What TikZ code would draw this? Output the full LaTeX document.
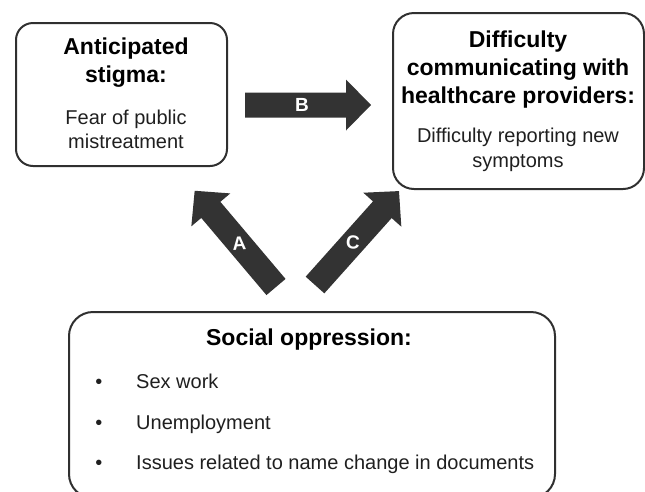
\documentclass[tikz,border=0pt]{standalone}
\usepackage{fontspec}
\setmainfont{Liberation Sans}
\definecolor{boxgray}{HTML}{303030}
\definecolor{arrowgray}{HTML}{333333}
\tikzset{
  box/.style={draw=boxgray, line width=2pt, rounded corners=#1, anchor=north west, inner sep=0},
  titletext/.style={font=\bfseries\fontsize{23}{27}\selectfont, anchor=base, inner sep=0, text=black},
  bodytext/.style={font=\fontsize{20}{24}\selectfont, anchor=base, inner sep=0, text=black!88},
  itemtext/.style={bodytext, anchor=base west},
  arrowfill/.style={fill=arrowgray},
  arrowlabel/.style={font=\bfseries\fontsize{19}{21}\selectfont, text=white, inner sep=0},
}
\newcommand\fatarrow[2]{%
  \begin{scope}[shift={#1}, rotate=#2]
    \fill[arrowfill] (0,-12.5) -- (101,-12.5) -- (101,-25.5) -- (126,0) -- (101,25.5) -- (101,12.5) -- (0,12.5) -- cycle;
  \end{scope}}
\begin{document}
\begin{tikzpicture}[x=1pt, y=-1pt]
  \useasboundingbox (0,0) rectangle (645,491);
  % boxes
  \node[box=17, minimum width=211, minimum height=143] (stigma) at (15,22) {};
  \node[box=21, minimum width=251, minimum height=176] (comm) at (392,12) {};
  \node[box=24, minimum width=486, minimum height=186] (oppr) at (68,311) {};
  % box 1 text
  \node[titletext] (s1) at (126,54) {Anticipated};
  \node[titletext] (s2) at (126,82) {stigma:};
  \node[bodytext] (s3) at (126,124) {Fear of public};
  \node[bodytext] (s4) at (126,148) {mistreatment};
  % box 2 text
  \node[titletext] (c1) at (518,47) {Difficulty};
  \node[titletext] (c2) at (518,75) {communicating with};
  \node[titletext] (c3) at (518,103) {healthcare providers:};
  \node[bodytext] (c4) at (518,142) {Difficulty reporting new};
  \node[bodytext] (c5) at (518,167) {symptoms};
  % box 3 text
  \node[titletext] (o1) at (309,345) {Social oppression:};
  \node[bodytext] (b1) at (99,388) {•};
  \node[bodytext] (b2) at (99,429) {•};
  \node[bodytext] (b3) at (99,469) {•};
  \node[itemtext] (i1) at (136,388) {Sex work};
  \node[itemtext] (i2) at (136,429) {Unemployment};
  \node[itemtext] (i3) at (136,469) {Issues related to name change in documents};
  % block arrows
  \fatarrow{(245,105)}{0}
  \fatarrow{(276,287)}{130.2}
  \fatarrow{(315,285)}{48.2}
  \node[arrowlabel] (arrB) at (302,105) {B};
  \node[arrowlabel, rotate=4] (arrA) at (239.2,243.5) {A};
  \node[arrowlabel, rotate=-4] (arrC) at (353,242.5) {C};
\end{tikzpicture}
\end{document}
